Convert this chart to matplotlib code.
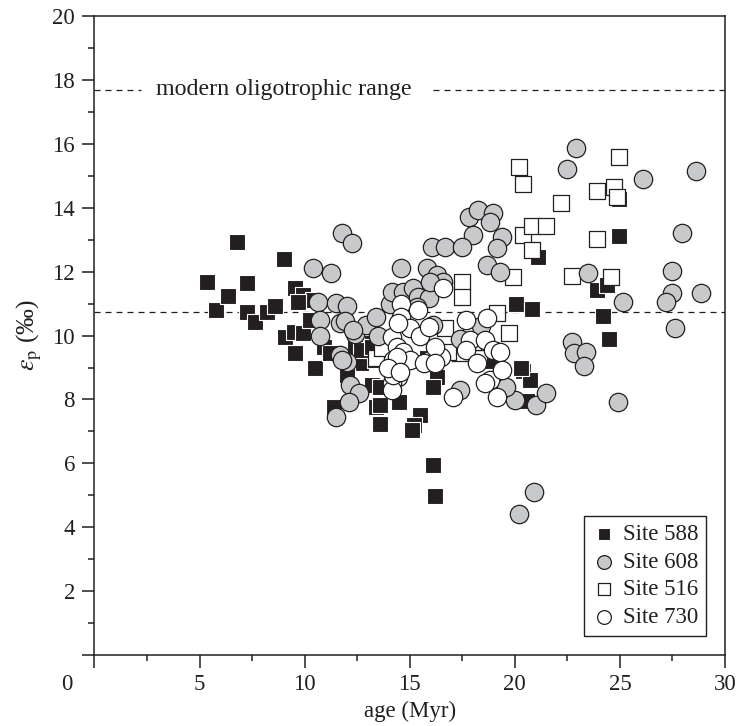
import matplotlib
matplotlib.use("Agg")
import matplotlib.pyplot as plt
from matplotlib.ticker import MultipleLocator

plt.rcParams['font.family'] = ['Liberation Serif', 'DejaVu Serif']
plt.rcParams['mathtext.fontset'] = 'stix'

INK = '#231f20'

# Site 588 (filled squares)
age_588 = [5.35, 5.78, 6.35, 6.78, 7.26, 7.26, 7.64, 8.2, 8.59, 9.0, 9.54, 9.92,
           10.4, 9.7, 9.06, 9.5, 9.92, 10.25, 9.54, 10.5, 11.4, 13.2, 13.4,
           10.9, 11.2, 12.4, 12.7, 12.0, 13.2, 13.35, 12.7, 13.2, 13.6, 13.6,
           14.5, 13.6, 15.5, 15.2, 15.1, 16.3, 16.1, 16.1, 16.2, 14.0, 14.3,
           20.05, 20.8, 20.4, 20.7, 20.6, 20.3, 24.95, 24.95, 21.1, 23.9, 24.4,
           24.2, 24.5, 15.8, 18.9]
eps_588 = [11.67, 10.8, 11.24, 12.93, 11.64, 10.74, 10.42, 10.74, 10.92, 12.39, 11.49, 11.27,
           11.11, 11.05, 9.95, 10.1, 10.08, 10.48, 9.45, 8.98, 7.75, 8.45, 7.76,
           9.64, 9.45, 9.64, 9.14, 8.76, 9.77, 9.23, 9.55, 9.64, 8.4, 7.84,
           7.92, 7.22, 7.5, 7.2, 7.05, 8.7, 8.38, 5.95, 4.98, 9.1, 9.0,
           10.98, 10.83, 8.9, 8.62, 7.94, 9.0, 14.27, 13.11, 12.45, 11.42, 11.58,
           10.61, 9.89, 9.3, 9.2]

# Site 608 (grey circles)
age_608 = [11.8, 12.25, 10.4, 11.25, 10.65, 11.5, 12.0, 10.73, 10.73, 11.68, 11.9,
           12.4, 12.9, 13.4, 11.7, 12.0, 12.15, 12.6, 12.1, 11.5, 12.3, 13.5,
           14.05, 14.15, 14.7, 15.15, 15.4, 15.9, 15.35, 16.1, 14.6, 15.8, 16.3,
           16.6, 15.96, 11.8,
           22.9, 22.5, 26.1, 28.6, 27.95, 27.5, 27.5, 27.2, 28.85, 27.6, 25.15,
           23.5, 18.7, 19.3, 17.8, 18.25, 18.95, 18.8, 18.0, 19.4, 19.15, 16.05,
           16.7, 17.5, 22.7, 22.8, 23.4,
           17.4, 20.0, 21.0, 21.5, 24.9, 23.3, 20.9, 20.2, 19.6, 18.4, 19.2, 17.4]
eps_608 = [13.2, 12.9, 12.1, 11.96, 11.05, 11.02, 10.92, 10.48, 9.98, 10.4, 10.45,
           10.05, 10.33, 10.58, 9.39, 9.17, 8.45, 8.2, 7.92, 7.45, 10.17, 10.0,
           11.0, 11.36, 11.36, 11.49, 11.2, 11.17, 10.9, 10.33, 12.1, 12.1, 11.9,
           11.67, 11.67, 9.23,
           15.87, 15.2, 14.9, 15.15, 13.2, 12.03, 11.33, 11.05, 11.33, 10.23, 11.05,
           11.95, 12.2, 12.0, 13.7, 13.93, 13.83, 13.56, 13.15, 13.08, 12.74, 12.77,
           12.77, 12.77, 9.8, 9.45, 9.5,
           8.3, 7.98, 7.82, 8.2, 7.92, 9.05, 5.1, 4.4, 8.4, 10.3, 9.5, 9.9]

# Site 516 (open squares)
age_516 = [20.2, 20.4, 24.95, 23.9, 24.7, 24.85, 22.2, 20.4, 20.8, 21.5, 20.8,
           23.9, 19.9, 17.5, 17.5, 22.7, 24.6, 19.7, 19.15, 16.7, 17.9, 17.4,
           18.3, 13.4, 13.7, 16.8, 18.0]
eps_516 = [15.28, 14.73, 15.58, 14.53, 14.65, 14.35, 14.15, 13.15, 13.43, 13.43, 12.68,
           13.01, 11.83, 11.68, 11.2, 11.87, 11.83, 10.08, 10.7, 10.23, 10.17, 9.45,
           9.3, 9.3, 9.6, 9.5, 9.8]

# Site 730 (open circles)
age_730 = [14.6, 15.4, 16.6, 14.6, 15.0, 15.5, 14.15, 14.4, 14.7, 14.2, 14.45,
           14.15, 14.15, 15.95, 16.5, 17.7, 18.7, 17.85, 18.6, 18.95, 19.3, 17.7,
           18.2, 18.8, 19.4, 19.15, 18.6, 17.05, 14.45, 15.9, 16.2, 15.0, 14.4,
           14.2, 13.95, 14.55, 15.7, 16.2]
eps_730 = [11.0, 10.8, 11.5, 10.58, 10.23, 10.0, 9.95, 9.64, 9.48, 9.23, 8.7,
           8.5, 8.3, 9.23, 9.33, 10.48, 10.55, 9.86, 9.86, 9.55, 9.48, 9.55,
           9.14, 8.6, 8.92, 8.07, 8.5, 8.07, 10.4, 10.27, 9.64, 9.23, 9.33,
           8.76, 9.0, 8.86, 9.14, 9.14]

oligotrophic_top = 17.7
oligotrophic_bottom = 10.75

fig = plt.figure(figsize=(7.4, 7.26), dpi=100)
ax = fig.add_axes([0.1277, 0.0978, 0.852, 0.880])

sq = 132
ci = 175
h588 = ax.scatter(age_588, eps_588, s=sq, marker='s', facecolor=INK,
                  edgecolor='white', linewidth=0.8, zorder=3, label='Site 588')
h516 = ax.scatter(age_516, eps_516, s=sq, marker='s', facecolor='white',
                  edgecolor=INK, linewidth=0.9, zorder=4, label='Site 516')
h608 = ax.scatter(age_608, eps_608, s=ci, marker='o', facecolor='#c8c9cb',
                  edgecolor=INK, linewidth=0.9, zorder=5, label='Site 608')
h730 = ax.scatter(age_730, eps_730, s=ci, marker='o', facecolor='white',
                  edgecolor=INK, linewidth=0.9, zorder=6, label='Site 730')

# oligotrophic range bounds
dash = (0, (4.8, 4.0))
ax.plot([0, 2.2], [oligotrophic_top] * 2, color=INK, lw=0.9, ls=dash, zorder=2)
ax.plot([16.1, 30], [oligotrophic_top] * 2, color=INK, lw=0.9, ls=dash, zorder=2)
ax.axhline(oligotrophic_bottom, color=INK, lw=0.9, ls=dash, zorder=2)
ax.text(2.95, oligotrophic_top, 'modern oligotrophic range', fontsize=17.3,
        color=INK, va='center', ha='left')

ax.set_xlim(0, 30)
ax.set_ylim(0, 20)
ax.xaxis.set_minor_locator(MultipleLocator(2.5))
ax.yaxis.set_minor_locator(MultipleLocator(1))
ax.set_xticks(range(0, 31, 5))
ax.set_xticklabels([''] + [str(v) for v in range(5, 31, 5)])
ax.set_yticks(range(0, 21, 2))
ax.set_yticklabels([''] + [str(v) for v in range(2, 21, 2)])
ax.tick_params(which='both', direction='out', colors=INK, width=1.1,
               labelsize=16.5, labelcolor=INK)
ax.tick_params(which='major', length=9)
ax.tick_params(which='minor', length=4.5)
ax.tick_params(axis='x', pad=5)
ax.tick_params(axis='y', pad=5)
for sp in ax.spines.values():
    sp.set_color(INK)
    sp.set_linewidth(1.1)

# shared origin label, set left of the corner on the x tick label row
ax.annotate('0', xy=(-1.3, 0), xycoords=ax.get_xaxis_transform(),
            xytext=(0, -14), textcoords='offset points', fontsize=16.5,
            color=INK, ha='center', va='top', annotation_clip=False)

ax.set_xlabel('age (Myr)', fontsize=16.5, color=INK, labelpad=4)
ax.set_ylabel(r'$\varepsilon_{\mathrm{p}}$ (‰)', fontsize=18.5, color=INK,
              labelpad=6)

leg = ax.legend(handles=[h588, h608, h516, h730], loc='lower right',
                bbox_to_anchor=(0.97, 0.03), borderaxespad=0, fontsize=16.5,
                frameon=True, fancybox=False, edgecolor=INK, framealpha=1,
                markerscale=0.75, handletextpad=0.25, labelspacing=0.28,
                borderpad=0.35, handlelength=1.1)
leg.get_frame().set_linewidth(1.0)
for t in leg.get_texts():
    t.set_color(INK)

fig.savefig('out.png', dpi=100)
